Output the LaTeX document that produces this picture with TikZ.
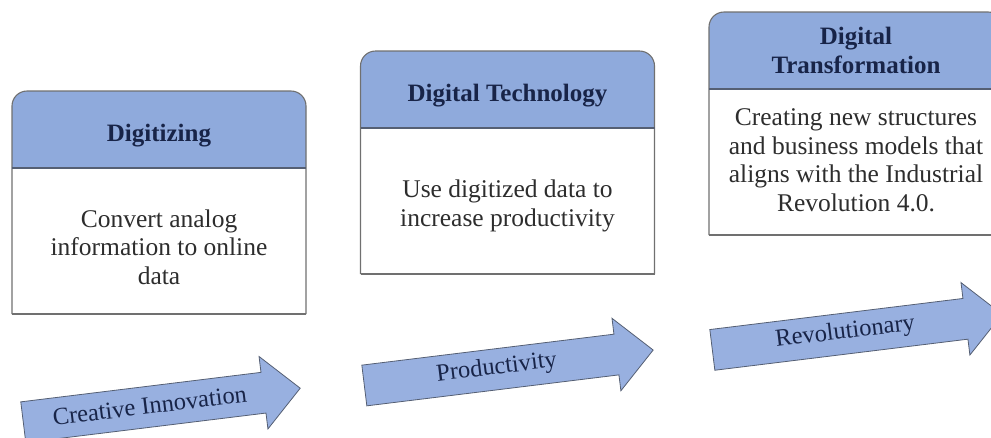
\documentclass[tikz,border=0pt]{standalone}
\usepackage{fontspec}
\IfFontExistsTF{LiberationSerif-Regular.ttf}
  {\setmainfont{LiberationSerif}[Extension=.ttf, UprightFont=*-Regular, BoldFont=*-Bold,
     ItalicFont=*-Italic, BoldItalicFont=*-BoldItalic]}
  {\setmainfont{Liberation Serif}}
\usetikzlibrary{positioning,backgrounds}
\definecolor{headblue}{RGB}{143,170,220}
\definecolor{arrowblue}{RGB}{152,176,224}
\definecolor{navy}{RGB}{24,36,72}
\definecolor{edgegray}{RGB}{112,112,112}
\definecolor{arrowedge}{RGB}{85,95,115}
\definecolor{textgray}{RGB}{45,45,45}

\begin{document}
\begin{tikzpicture}[x=1pt,y=-1pt,
    head/.style={minimum width=294pt, minimum height=77pt, inner sep=0pt, outer sep=0pt,
      align=center, text=navy, font=\fontsize{25}{29.5}\selectfont\bfseries},
    headlow/.style={head, text height=29pt, text depth=5.5pt},
    body/.style={minimum width=294pt, minimum height=146pt, inner sep=0pt, outer sep=0pt},
    bodytext/.style={align=center, text=textgray, font=\fontsize{25.5}{28.5}\selectfont},
    outline/.style={draw=edgegray, line width=1.1pt},
    shaft/.style={fill=arrowblue, draw=arrowedge, line width=0.8pt},
    shafttext/.style={text=navy, font=\fontsize{24.5}{28}\selectfont, transform shape}]
  \useasboundingbox (0,0) rectangle (991,437);
  \clip (0,0) rectangle (991,437);

  \node[headlow] (digit) at (159,129.5) {Digitizing};
  \node[body, below=0pt of digit] (digitbody) {};
  \node[bodytext] (digittext) at ([yshift=-6pt]digitbody.center) {Convert analog\\information to online\\data};

  \node[headlow] (tech) at (507.5,89.5) {Digital Technology};
  \node[body, below=0pt of tech] (techbody) {};
  \node[bodytext] (techtext) at ([yshift=-5pt]techbody.center) {Use digitized data to\\increase productivity};

  \node[head] (trans) at (856,50.5) {Digital\\Transformation};
  \node[body, below=0pt of trans] (transbody) {};
  \node[bodytext] (transtext) at ([yshift=2pt]transbody.center) {Creating new structures\\and business models that\\aligns with the Industrial\\Revolution 4.0.};

  % rounded headers and box outlines
  \begin{scope}[on background layer]
    \foreach \h/\b in {digit/digitbody, tech/techbody, trans/transbody} {
      \fill[headblue, rounded corners=15pt] (\h.south west) |- (\h.north) -| (\h.south east);
      \draw[outline, rounded corners=15pt] (\b.south west) |- (\h.north) -| (\b.south east);
      \draw[outline] (\b.south west) -- (\b.south east);
      \draw[outline, draw=arrowedge] (\h.south west) -- (\h.south east);
    }
  \end{scope}

  % arrows along the bottom
  \foreach \cx/\cy/\len/\name/\txt in {161.75/405.2/279/innov/Creative Innovation,
      508.75/367.75/291/prod/Productivity, 857.25/332.1/292/revo/Revolutionary} {
    \begin{scope}[shift={(\cx,\cy)}, rotate=7]
      \draw[shaft] (-\len/2,-20.5) -- ({\len/2-37},-20.5) -- ({\len/2-37},-36.5)
        -- (\len/2,0) -- ({\len/2-37},36.5) -- ({\len/2-37},20.5) -- (-\len/2,20.5) -- cycle;
      \node[shafttext] (\name) at (-12,-1) {\txt};
    \end{scope}
  }
\end{tikzpicture}
\end{document}
